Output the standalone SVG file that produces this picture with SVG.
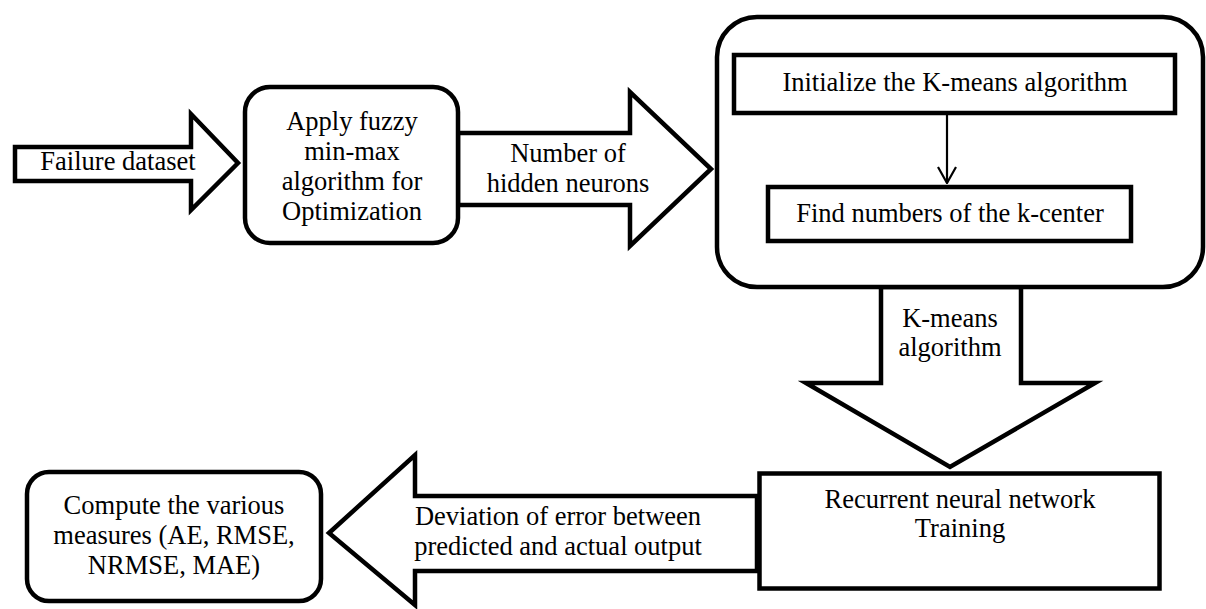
<svg xmlns="http://www.w3.org/2000/svg" width="1206" height="609" viewBox="0 0 1206 609">
<style>
.shape{fill:#fff;stroke:#000;stroke-width:4.5;stroke-linejoin:miter}
.t{font-family:"Liberation Serif","Times New Roman",serif;font-size:26.5px;fill:#000;text-anchor:middle}
.thin{stroke:#000;stroke-width:2.2;fill:none}
</style>
<defs>
<marker id="open" viewBox="0 0 18 20" refX="17" refY="10" markerWidth="18" markerHeight="20" markerUnits="userSpaceOnUse" orient="auto">
<path d="M1,1 L17,10 L1,19" fill="none" stroke="#000" stroke-width="2.2"/>
</marker>
</defs>
<rect width="1206" height="609" fill="#fff"/>
<g id="connectors">
<g id="arrow-failure">
<polygon class="shape" points="15,147 191,147 191,114 238,163 191,210 191,181 15,181"/>
<text class="t" x="118" y="170">Failure dataset</text>
</g>
<g id="arrow-hidden">
<polygon class="shape" points="458,133 630,133 630,92 711,169 630,246 630,205 458,205"/>
<text class="t" x="568" y="162">Number of</text>
<text class="t" x="568" y="192">hidden neurons</text>
</g>
<g id="arrow-kmeans">
<polygon class="shape" points="881,287 881,383 806,383 950,467 1095,383 1021,383 1021,287"/>
<text class="t" x="950" y="327">K-means</text>
<text class="t" x="950" y="356">algorithm</text>
</g>
<g id="arrow-deviation">
<polygon class="shape" points="329,533 415,455 415,496 757,496 757,571 415,571 415,605"/>
<text class="t" x="558" y="525">Deviation of error between</text>
<text class="t" x="558" y="555">predicted and actual output</text>
</g>
</g>
<g id="node-fuzzy">
<rect class="shape" x="245" y="87" width="213" height="156" rx="25"/>
<text class="t" x="352" y="130">Apply fuzzy</text>
<text class="t" x="352" y="160">min-max</text>
<text class="t" x="352" y="190">algorithm for</text>
<text class="t" x="352" y="220">Optimization</text>
</g>
<g id="node-kmeans-group">
<rect class="shape" x="717" y="17" width="486" height="270" rx="40"/>
</g>
<g id="node-init">
<rect class="shape" x="734" y="55" width="441" height="58"/>
<text class="t" x="955" y="91">Initialize the K-means algorithm</text>
</g>
<g id="node-find">
<rect class="shape" x="768" y="187" width="363" height="54"/>
<text class="t" x="950" y="222">Find numbers of the k-center</text>
</g>
<g id="inner-connector">
<line class="thin" x1="947" y1="115" x2="947" y2="183" marker-end="url(#open)"/>
</g>
<g id="node-rnn">
<rect class="shape" x="759.5" y="473.5" width="400" height="115"/>
<text class="t" x="960" y="508">Recurrent neural network</text>
<text class="t" x="960" y="537">Training</text>
</g>
<g id="node-compute">
<rect class="shape" x="27" y="472" width="294" height="129" rx="22"/>
<text class="t" x="174" y="514">Compute the various</text>
<text class="t" x="174" y="544">measures (AE, RMSE,</text>
<text class="t" x="174" y="574">NRMSE, MAE)</text>
</g>
</svg>
